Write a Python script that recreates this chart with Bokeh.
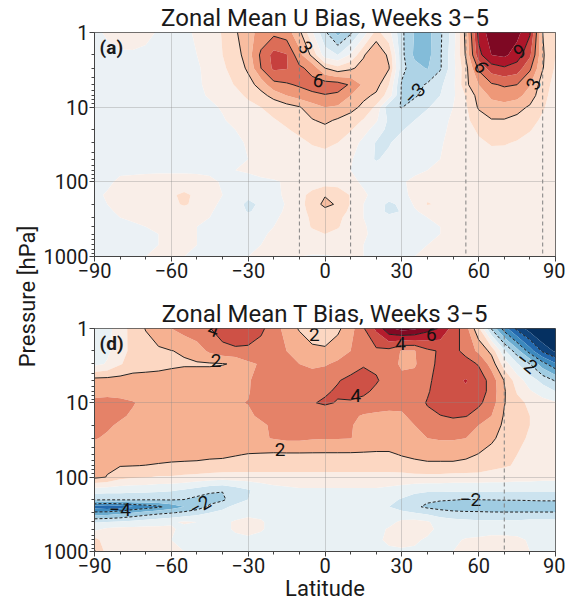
import numpy as np
from math import pi
from bokeh.plotting import figure
from bokeh.models import Range1d, FixedTicker, Span, Label, ColumnDataSource
from bokeh.layouts import row, column
from bokeh.core.properties import value
from bokeh.embed import file_html
from bokeh.resources import INLINE

# ---------------- data ----------------
LATITUDE = list(range(-90, 91, 5))
PRESSURE = [1, 2, 3, 5, 7, 10, 15, 20, 30, 50, 70, 100, 150, 200, 250, 300, 400, 500, 700, 1000]

# zonal mean U bias [m/s], rows = PRESSURE, columns = LATITUDE
U_BIAS = [
    [-0.3, 0.2, 0.6, 0.7, 0.5, -0.2, -0.4, -0.3, 0.2, 0.8, 1.6, 2.8, 4.0, 5.0, 5.6, 5.2, 3.4, 0.2, -2.7, -5.0, -3.3, -0.8, 2.0, 0.5, -2.7, -4.6, -5.0, -3.3, -0.8, 3.5, 9.5, 11.3, 11.8, 11.0, 9.2, 3.0, 1.5],
    [-0.5, -0.4, -0.2, -0.2, -0.4, -0.5, -0.5, -0.4, 0.0, 0.6, 1.5, 2.3, 3.8, 6.3, 8.0, 7.6, 5.0, 2.6, -0.8, -1.5, 0.2, 2.8, 4.5, 2.6, -2.6, -4.8, -5.0, -3.2, -0.5, 3.2, 8.5, 10.5, 10.8, 9.8, 7.8, 3.2, 1.5],
    [-0.5, -0.5, -0.4, -0.4, -0.5, -0.5, -0.5, -0.5, -0.2, 0.5, 1.3, 2.0, 3.3, 6.0, 7.8, 7.6, 6.3, 5.5, 3.0, 2.0, 2.7, 3.6, 4.3, 3.1, -2.5, -4.0, -4.6, -3.2, -0.5, 2.5, 6.3, 8.3, 8.8, 8.3, 6.3, 3.1, 1.3],
    [-0.4, -0.4, -0.5, -0.5, -0.5, -0.5, -0.5, -0.4, -0.2, 0.3, 0.9, 1.6, 2.4, 3.6, 5.5, 5.8, 6.2, 6.5, 6.8, 6.7, 5.8, 4.2, 3.6, 1.5, -3.2, -3.6, -2.8, -1.8, -0.4, 2.6, 4.5, 5.8, 6.2, 6.0, 4.6, 2.2, 1.0],
    [-0.4, -0.4, -0.4, -0.4, -0.4, -0.4, -0.4, -0.3, -0.2, 0.1, 0.4, 1.0, 1.8, 2.5, 3.5, 4.5, 5.2, 5.7, 5.9, 5.7, 4.5, 3.4, 2.7, 0.8, -3.2, -3.2, -2.4, -1.5, -0.3, 1.6, 3.6, 4.8, 5.2, 5.0, 3.8, 2.0, 0.8],
    [-0.4, -0.5, -0.5, -0.5, -0.5, -0.5, -0.5, -0.4, -0.3, -0.2, 0.1, 0.6, 1.0, 1.5, 2.0, 2.4, 2.9, 3.8, 4.5, 4.3, 3.6, 2.6, 1.2, -2.7, -3.05, -2.3, -1.6, -1.0, 0.0, 1.3, 3.2, 3.9, 4.0, 3.5, 2.8, 1.7, 0.6],
    [-0.4, -0.4, -0.4, -0.4, -0.4, -0.4, -0.4, -0.4, -0.3, -0.2, -0.1, 0.3, 0.6, 1.0, 1.4, 1.8, 2.3, 2.9, 3.3, 2.8, 2.2, 1.4, 0.2, -1.8, -2.0, -1.5, -1.0, -0.6, 0.3, 1.2, 2.2, 2.9, 2.9, 2.6, 2.1, 1.2, 0.5],
    [-0.4, -0.4, -0.4, -0.4, -0.4, -0.4, -0.4, -0.4, -0.4, -0.4, -0.3, 0.0, 0.3, 0.6, 1.0, 1.4, 1.8, 2.3, 2.6, 2.2, 1.6, 0.7, -0.8, -1.9, -1.6, -1.0, -0.6, -0.3, 0.3, 1.0, 1.7, 2.2, 2.3, 2.0, 1.6, 0.9, 0.4],
    [-0.3, -0.4, -0.4, -0.4, -0.4, -0.4, -0.4, -0.4, -0.4, -0.4, -0.4, -0.2, 0.1, 0.4, 0.6, 0.9, 1.2, 1.6, 1.8, 1.5, 0.9, -0.5, -1.6, -1.6, -1.0, -0.6, -0.3, -0.1, 0.3, 0.8, 1.3, 1.6, 1.6, 1.4, 1.0, 0.6, 0.3],
    [-0.2, -0.3, -0.3, -0.3, -0.3, -0.3, -0.3, -0.3, -0.3, -0.3, -0.3, -0.2, 0.0, 0.2, 0.3, 0.4, 0.6, 0.9, 1.0, 0.8, 0.2, -1.0, -1.6, -1.2, -0.7, -0.4, -0.2, 0.0, 0.2, 0.5, 0.9, 1.1, 1.0, 0.9, 0.7, 0.4, 0.2],
    [-0.2, -0.2, -0.2, -0.2, -0.2, -0.2, -0.2, -0.2, -0.2, -0.2, -0.1, 0.0, 0.1, 0.3, 0.4, 0.5, 0.5, 0.6, 0.6, 0.4, 0.0, -0.6, -0.9, -0.7, -0.4, -0.2, 0.0, 0.1, 0.2, 0.3, 0.5, 0.6, 0.6, 0.5, 0.4, 0.3, 0.2],
    [-0.3, -0.2, 0.2, 0.3, 0.4, 0.5, 0.5, 0.5, 0.4, 0.2, -0.1, -0.3, -0.3, -0.2, -0.1, 0.1, 0.4, 0.6, 0.8, 0.7, 0.3, -0.2, -0.4, -0.3, -0.1, 0.2, 0.4, 0.4, 0.3, 0.2, 0.3, 0.4, 0.4, 0.3, 0.3, 0.2, 0.2],
    [-0.2, 0.1, 0.3, 0.4, 0.5, 0.8, 1.3, 1.8, 1.2, 0.5, 0.0, -0.6, -1.2, -0.8, -0.3, 0.2, 1.0, 2.0, 2.9, 2.6, 1.4, 0.2, -0.4, -0.8, -0.4, 0.4, 1.2, 1.0, 0.4, 0.2, 0.2, 0.3, 0.4, 0.4, 0.3, 0.2, 0.1],
    [-0.3, 0.0, 0.2, 0.3, 0.4, 0.7, 1.1, 1.7, 1.1, 0.4, -0.3, -1.0, -1.8, -1.3, -0.5, 0.1, 1.0, 2.2, 3.4, 2.8, 1.4, 0.0, -0.8, -1.8, -1.2, 0.2, 1.6, 1.3, 0.4, 0.1, 0.2, 0.3, 0.4, 0.4, 0.4, 0.3, 0.2],
    [-0.3, -0.1, 0.1, 0.2, 0.3, 0.4, 0.5, 0.6, 0.4, 0.1, -0.3, -0.9, -1.6, -1.2, -0.4, 0.2, 1.0, 1.9, 2.5, 2.2, 1.2, 0.0, -0.8, -1.9, -1.4, -0.2, 0.5, 0.5, 0.3, 0.2, 0.3, 0.4, 0.5, 0.5, 0.5, 0.4, 0.3],
    [-0.3, -0.2, 0.0, 0.1, 0.2, 0.3, 0.3, 0.3, 0.2, 0.0, -0.2, -0.5, -0.7, -0.5, -0.2, 0.3, 1.0, 1.7, 2.0, 1.8, 1.0, 0.0, -0.5, -1.0, -0.8, -0.3, 0.0, 0.1, 0.1, 0.2, 0.3, 0.4, 0.5, 0.5, 0.5, 0.4, 0.3],
    [-0.3, -0.3, -0.2, -0.1, 0.0, 0.1, 0.1, 0.1, 0.0, -0.1, -0.2, -0.3, -0.3, -0.2, 0.0, 0.3, 0.9, 1.6, 1.8, 1.6, 0.9, 0.1, -0.3, -0.4, -0.4, -0.2, -0.1, 0.0, 0.1, 0.2, 0.3, 0.4, 0.4, 0.4, 0.4, 0.3, 0.2],
    [-0.3, -0.3, -0.2, -0.2, -0.1, 0.0, 0.1, 0.1, 0.0, -0.1, -0.2, -0.2, -0.2, -0.1, 0.1, 0.3, 0.7, 1.2, 1.5, 1.2, 0.7, 0.1, -0.2, -0.3, -0.3, -0.2, -0.1, 0.0, 0.1, 0.2, 0.3, 0.3, 0.3, 0.3, 0.3, 0.2, 0.2],
    [-0.2, -0.2, -0.2, -0.1, -0.1, 0.0, 0.1, 0.1, 0.0, -0.1, -0.1, -0.1, -0.1, 0.0, 0.1, 0.2, 0.3, 0.5, 0.6, 0.5, 0.3, 0.0, -0.2, -0.2, -0.2, -0.1, 0.0, 0.1, 0.1, 0.2, 0.2, 0.3, 0.3, 0.3, 0.2, 0.2, 0.1],
    [-0.2, -0.2, -0.1, -0.1, 0.0, 0.1, 0.1, 0.0, -0.1, -0.1, -0.1, -0.1, 0.0, 0.1, 0.1, 0.1, 0.0, -0.1, -0.1, 0.0, 0.1, 0.0, -0.1, -0.1, -0.1, 0.0, 0.1, 0.1, 0.1, 0.2, 0.2, 0.2, 0.2, 0.2, 0.1, 0.1, 0.1],
]

# zonal mean T bias [K], rows = PRESSURE, columns = LATITUDE
T_BIAS = [
    [-0.6, -0.3, 0.5, 1.4, 2.05, 2.6, 3.0, 3.4, 3.7, 3.95, 4.6, 4.8, 4.6, 4.2, 3.5, 2.6, 1.9, 1.3, 1.2, 1.8, 2.6, 3.9, 5.2, 6.8, 7.4, 7.2, 6.4, 5.9, 4.6, 3.4, 1.2, -2.1, -4.5, -6.3, -7.5, -8.5, -9.2],
    [-0.5, -0.2, 0.6, 1.3, 1.6, 1.85, 1.98, 2.1, 2.5, 3.2, 3.6, 3.8, 3.8, 3.6, 3.3, 3.0, 2.7, 2.3, 2.2, 2.5, 3.0, 3.5, 3.8, 3.7, 2.9, 2.95, 3.8, 4.1, 4.4, 3.6, 2.8, 1.7, -0.8, -2.6, -4.5, -6.2, -7.2],
    [-0.3, 0.1, 0.9, 1.5, 1.6, 1.7, 1.8, 1.9, 1.9, 1.9, 1.95, 2.1, 2.8, 3.1, 3.2, 3.2, 3.0, 2.8, 2.9, 3.2, 3.6, 3.9, 3.8, 3.5, 2.8, 2.9, 3.6, 4.3, 4.6, 4.5, 3.9, 2.6, 0.5, -0.9, -2.0, -3.6, -4.8],
    [2.4, 2.4, 2.4, 2.4, 2.4, 2.4, 2.5, 2.5, 2.5, 2.5, 2.6, 2.8, 2.95, 3.2, 3.4, 3.5, 3.5, 3.5, 3.6, 3.95, 4.2, 4.4, 4.1, 3.6, 3.3, 3.3, 3.7, 4.6, 4.8, 5.05, 4.6, 3.6, 1.95, 0.5, -0.5, -1.3, -2.1],
    [2.6, 2.7, 2.7, 2.7, 2.6, 2.6, 2.6, 2.6, 2.6, 2.7, 2.8, 2.9, 2.95, 3.3, 3.5, 3.6, 3.6, 3.7, 3.9, 4.1, 4.3, 4.2, 3.8, 3.4, 3.2, 3.3, 3.85, 4.7, 4.9, 4.9, 4.6, 3.6, 2.1, 0.9, 0.1, -0.5, -1.0],
    [3.3, 3.3, 3.2, 3.05, 2.8, 2.7, 2.7, 2.7, 2.7, 2.8, 2.9, 2.95, 3.02, 3.3, 3.5, 3.6, 3.7, 3.95, 4.1, 3.95, 3.9, 3.7, 3.5, 3.3, 3.2, 3.4, 4.1, 4.7, 4.9, 4.8, 4.2, 3.5, 2.05, 1.3, 0.8, 0.4, 0.1],
    [3.4, 3.3, 3.1, 2.9, 2.8, 2.7, 2.7, 2.7, 2.7, 2.7, 2.7, 2.8, 2.9, 3.1, 3.4, 3.5, 3.5, 3.5, 3.5, 3.4, 3.2, 2.9, 2.8, 2.8, 2.9, 3.2, 3.7, 3.95, 4.15, 4.05, 3.6, 3.0, 1.9, 1.4, 1.0, 0.7, 0.4],
    [3.2, 3.1, 2.9, 2.8, 2.7, 2.7, 2.7, 2.7, 2.7, 2.7, 2.7, 2.7, 2.8, 2.9, 3.1, 3.3, 3.4, 3.4, 3.3, 3.2, 3.05, 2.8, 2.7, 2.7, 2.8, 3.0, 3.3, 3.5, 3.5, 3.3, 3.0, 2.6, 1.8, 1.3, 1.0, 0.7, 0.4],
    [3.05, 2.9, 2.7, 2.6, 2.6, 2.6, 2.6, 2.6, 2.6, 2.6, 2.6, 2.6, 2.7, 2.9, 3.05, 3.2, 3.2, 3.1, 3.05, 3.05, 3.02, 2.8, 2.6, 2.6, 2.6, 2.7, 3.0, 3.1, 3.1, 3.0, 2.6, 2.2, 1.6, 1.2, 0.9, 0.6, 0.4],
    [2.5, 2.5, 2.4, 2.4, 2.4, 2.4, 2.3, 2.3, 2.3, 2.2, 2.15, 2.05, 1.95, 1.9, 1.85, 1.85, 1.85, 1.85, 1.85, 1.85, 1.85, 1.85, 1.85, 1.85, 2.05, 2.2, 2.3, 2.3, 2.3, 2.2, 1.95, 1.6, 1.3, 1.0, 0.8, 0.6, 0.4],
    [2.5, 2.1, 2.05, 2.02, 1.98, 1.9, 1.85, 1.8, 1.75, 1.7, 1.7, 1.6, 1.6, 1.6, 1.6, 1.6, 1.6, 1.6, 1.6, 1.6, 1.6, 1.6, 1.6, 1.6, 1.6, 1.7, 1.8, 1.8, 1.8, 1.7, 1.6, 1.3, 1.1, 0.9, 0.7, 0.5, 0.4],
    [2.2, 1.97, 1.3, 1.1, 1.05, 0.9, 0.9, 0.8, 0.7, 0.6, 0.5, 0.5, 0.5, 0.5, 0.5, 0.5, 0.5, 0.5, 0.5, 0.5, 0.5, 0.5, 0.5, 0.5, 0.6, 0.7, 0.7, 0.7, 0.6, 0.6, 0.6, 0.5, 0.5, 0.4, 0.4, 0.3, 0.3],
    [-0.5, -0.6, -0.6, -0.7, -0.7, -0.8, -0.9, -1.1, -1.4, -1.8, -1.95, -1.5, -1.1, -0.6, -0.3, -0.2, -0.1, -0.1, -0.1, -0.1, -0.1, -0.1, -0.1, -0.2, -0.4, -0.7, -0.8, -0.8, -0.8, -0.8, -0.8, -0.8, -0.8, -0.8, -0.8, -0.8, -0.8],
    [-1.8, -1.85, -1.85, -1.85, -1.9, -1.9, -1.9, -2.0, -2.3, -2.4, -2.2, -1.4, -1.0, -0.6, -0.4, -0.3, -0.3, -0.3, -0.3, -0.3, -0.3, -0.3, -0.4, -0.7, -1.1, -1.5, -1.8, -1.9, -1.95, -2.02, -1.98, -1.95, -1.9, -1.9, -1.85, -1.8, -1.8],
    [-5.5, -5.8, -5.5, -5.0, -4.6, -4.2, -3.6, -3.0, -2.6, -1.8, -1.2, -0.8, -0.6, -0.4, -0.3, -0.3, -0.3, -0.3, -0.3, -0.3, -0.3, -0.4, -0.5, -1.0, -1.4, -1.8, -2.2, -2.4, -2.5, -2.6, -2.7, -2.8, -2.9, -2.9, -2.9, -2.9, -2.9],
    [-3.8, -3.7, -3.4, -3.0, -2.6, -2.3, -2.1, -1.8, -1.4, -1.0, -0.8, -0.5, -0.3, -0.3, -0.3, -0.3, -0.3, -0.3, -0.3, -0.3, -0.3, -0.3, -0.4, -0.6, -0.8, -1.0, -1.3, -1.6, -1.8, -1.85, -1.85, -1.9, -1.9, -1.9, -1.9, -1.9, -1.9],
    [-1.1, -1.0, -0.9, -0.7, -0.5, -0.3, -0.1, 0.1, 0.0, -0.1, -0.2, 0.1, 0.3, 0.1, -0.3, -0.3, -0.3, -0.3, -0.3, -0.3, -0.3, -0.3, -0.3, -0.3, 0.2, 0.3, 0.1, -0.4, -0.6, -0.7, -0.8, -0.8, -0.8, -0.8, -0.7, -0.7, -0.7],
    [-0.3, 0.2, 0.3, 0.3, 0.3, 0.2, 0.1, -0.2, -0.3, -0.3, -0.2, 0.1, 0.3, 0.1, -0.3, -0.4, -0.4, -0.4, -0.4, -0.4, -0.4, -0.4, -0.3, 0.1, 0.4, 0.4, 0.2, -0.2, -0.4, -0.5, -0.5, -0.4, -0.4, -0.4, -0.4, -0.4, -0.4],
    [1.4, 0.4, 0.3, 0.3, 0.2, 0.1, 0.0, -0.2, -0.3, -0.3, -0.3, -0.2, -0.2, -0.3, -0.3, -0.3, -0.3, -0.3, -0.3, -0.3, -0.3, -0.2, -0.1, 0.1, 0.2, 0.1, -0.1, -0.2, -0.2, 0.1, 0.2, 0.3, 0.3, 0.2, -0.1, -0.2, -0.2],
    [2.1, 0.6, 0.3, 0.2, 0.2, 0.1, 0.1, 0.0, -0.1, -0.1, -0.2, -0.2, -0.2, -0.2, -0.2, -0.2, -0.2, -0.2, -0.2, -0.2, -0.2, -0.2, -0.2, -0.1, -0.1, -0.1, -0.1, -0.1, 0.0, 0.1, 0.2, 0.2, 0.2, 0.1, 0.0, -0.1, -0.1],
]

U_FILL_STEP = 1.5
U_FILL_MAX = 12.0
U_LINE_POS = [3, 6, 9]
U_LINE_NEG = [-9, -6, -3]
T_FILL_STEP = 1.0
T_FILL_MAX = 7.0
T_LINE_POS = [2, 4, 6]
T_LINE_NEG = [-6, -4, -2]

U_DASHED_LATS = [-10, 10, 55, 85]
T_DASHED_LATS = [70]

U_LABEL_LAT = [-7.7, -2.6, 35.0, 61.0, 76.0, 81.5]
U_LABEL_P = [1.6, 4.4, 6.6, 2.9, 1.8, 4.9]
U_LABEL_TEXT = ["3", "6", "\u22123", "6", "9", "3"]
U_LABEL_ANGLE = [-55, -10, 45, -60, 30, 65]

T_LABEL_LAT = [-43.5, -42.5, -4.2, 29.5, 41.5, 12.0, 78.7, -17.5, -80.0, -48.8, 56.8]
T_LABEL_P = [1.05, 2.7, 1.2, 1.6, 1.2, 8.0, 2.9, 42.0, 275.0, 240.0, 200.0]
T_LABEL_TEXT = ["4", "2", "2", "4", "6", "4", "\u22122", "2", "\u22124", "\u22122", "\u22122"]
T_LABEL_ANGLE = [-20, 0, 0, 0, 0, 0, -40, 0, 0, 30, 0]

X_TICKS = [-90, -60, -30, 0, 30, 60, 90]
X_MINOR = [-80, -70, -50, -40, -20, -10, 10, 20, 40, 50, 70, 80]
P_TICKS = [1, 10, 100, 1000]

FONT = "Roboto"
TEXT_COLOR = "#1a1a1a"

RDBU_R = ["#053061", "#2166ac", "#4393c3", "#92c5de", "#d1e5f0", "#f7f7f7",
          "#fddbc7", "#f4a582", "#d6604d", "#b2182b", "#67001f"]


def rdbu_r(f):
    f = min(max(f, 0.0), 1.0)
    pos = f * 10
    i = min(int(pos), 9)
    t = pos - i
    a = [int(RDBU_R[i][k:k + 2], 16) for k in (1, 3, 5)]
    b = [int(RDBU_R[i + 1][k:k + 2], 16) for k in (1, 3, 5)]
    return "#%02x%02x%02x" % tuple(int(round(x + (y - x) * t)) for x, y in zip(a, b))


def fill_spec(step, vmax):
    n = int(round(2 * vmax / step))
    inner = list(np.linspace(-vmax, vmax, n + 1))
    levels = [-999.0] + inner + [999.0]
    colors = [rdbu_r(0.0)] + [rdbu_r((i + 0.5) / n) for i in range(n)] + [rdbu_r(1.0)]
    return levels, colors


def make_panel(z, fill_step, fill_max, pos_lines, neg_lines, lab_lat, lab_p, lab_text,
               lab_angle, dashed, title, tag, height, b_top, b_bottom, xlabel):
    p = figure(width=525, height=height, x_range=Range1d(-90, 90), y_range=Range1d(3, 0),
               toolbar_location=None, output_backend="svg",
               min_border_left=53, min_border_right=10,
               min_border_top=b_top, min_border_bottom=b_bottom)
    p.background_fill_color = "white"
    x = np.array(LATITUDE, dtype=float)
    y = np.log10(np.array(PRESSURE, dtype=float))
    zz = np.array(z, dtype=float)
    levels, colors = fill_spec(fill_step, fill_max)
    p.contour(x, y, zz, levels=levels, fill_color=colors)
    p.contour(x, y, zz, levels=pos_lines, line_color="#222222", line_width=1.0)
    p.contour(x, y, zz, levels=neg_lines, line_color="#222222", line_width=1.0, line_dash="3 2")

    for lat in dashed:
        p.add_layout(Span(location=lat, dimension="height", line_color="#808080",
                          line_dash="4 3", line_width=1))

    src = ColumnDataSource(dict(x=lab_lat, y=list(np.log10(lab_p)), text=lab_text,
                                angle=[a * pi / 180 for a in lab_angle]))
    p.text(x="x", y="y", text="text", angle="angle", source=src,
           text_font=value(FONT), text_font_size="19px", text_color="#111111",
           text_align="center", text_baseline="middle")

    p.add_layout(Label(x=-88, y=0.05, text=tag, text_font=FONT, text_font_style="bold",
                       text_font_size="19px", text_baseline="top", text_align="left",
                       text_color=TEXT_COLOR))

    p.title.text = title
    p.title.align = "center"
    p.title.text_font = FONT
    p.title.text_font_style = "normal"
    p.title.text_font_size = "24px"
    p.title.text_color = TEXT_COLOR
    p.title.standoff = 2

    p.xaxis.ticker = FixedTicker(ticks=X_TICKS, minor_ticks=X_MINOR)
    p.xaxis.major_label_overrides = {t: (str(t).replace("-", "\u2212")) for t in X_TICKS}
    logt = [float(np.log10(t)) for t in P_TICKS]
    minor = [float(np.log10(k * 10 ** d)) for d in range(3) for k in range(2, 10)]
    p.yaxis.ticker = FixedTicker(ticks=logt, minor_ticks=minor)
    p.yaxis.major_label_overrides = {lt: str(t) for lt, t in zip(logt, P_TICKS)}

    for ax in (p.xaxis[0], p.yaxis[0]):
        ax.major_label_text_font = FONT
        ax.major_label_text_font_size = "20px"
        ax.major_label_text_color = TEXT_COLOR
        ax.axis_line_color = "#444444"
        ax.major_tick_line_color = "#444444"
        ax.minor_tick_line_color = "#444444"
        ax.major_tick_out = 5
        ax.major_tick_in = 0
        ax.minor_tick_out = 3
        ax.minor_tick_in = 0
        ax.major_label_standoff = 1
    if xlabel:
        p.xaxis.axis_label = xlabel
        p.xaxis.axis_label_text_font = FONT
        p.xaxis.axis_label_text_font_style = "normal"
        p.xaxis.axis_label_text_font_size = "22px"
        p.xaxis.axis_label_text_color = TEXT_COLOR
        p.xaxis.axis_label_standoff = 0

    p.xgrid.ticker = FixedTicker(ticks=[-60, -30, 0, 30, 60])
    p.ygrid.ticker = FixedTicker(ticks=[1.0, 2.0])
    for g in (p.xgrid[0], p.ygrid[0]):
        g.grid_line_color = "#8a8a8a"
        g.grid_line_alpha = 0.35
        g.grid_line_width = 1
        g.level = "overlay"
    p.outline_line_color = "#444444"
    p.outline_line_width = 1
    return p


top = make_panel(U_BIAS, U_FILL_STEP, U_FILL_MAX, U_LINE_POS, U_LINE_NEG,
                 U_LABEL_LAT, U_LABEL_P, U_LABEL_TEXT, U_LABEL_ANGLE, U_DASHED_LATS,
                 "Zonal Mean U Bias, Weeks 3\u22125", "(a)", 290, 32, 34, None)
bottom = make_panel(T_BIAS, T_FILL_STEP, T_FILL_MAX, T_LINE_POS, T_LINE_NEG,
                    T_LABEL_LAT, T_LABEL_P, T_LABEL_TEXT, T_LABEL_ANGLE, T_DASHED_LATS,
                    "Zonal Mean T Bias, Weeks 3\u22125", "(d)", 316, 38, 55, "Latitude")

side = figure(width=40, height=606, x_range=Range1d(0, 40), y_range=Range1d(606, 0),
              toolbar_location=None, output_backend="svg", min_border=0,
              x_axis_location=None, y_axis_location=None)
side.grid.visible = False
side.outline_line_color = None
side.add_layout(Label(x=27, y=296, text="Pressure [hPa]", angle=pi / 2,
                      text_align="center", text_baseline="middle", text_font=FONT,
                      text_font_size="22px", text_color=TEXT_COLOR))

layout = row(side, column(top, bottom))
open("out.html", "w").write(file_html(layout, INLINE))
